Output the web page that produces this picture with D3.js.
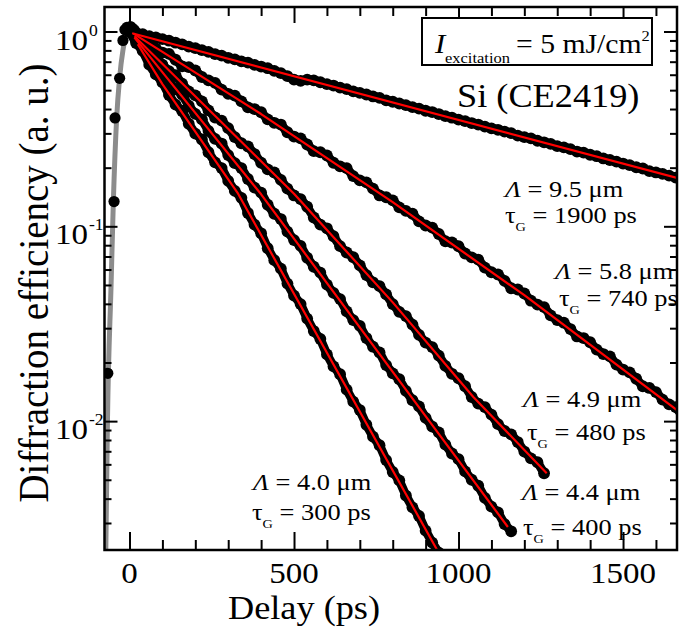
<!DOCTYPE html>
<html><head><meta charset="utf-8">
<script src="https://cdn.jsdelivr.net/npm/d3@7"></script>
<style>
body{margin:0;background:#fff}
svg{display:block;background:#fff}
text{font-family:"Liberation Serif","Times New Roman",serif;fill:#000}
</style>
</head><body>
<svg id="c" width="683" height="629"></svg>
<script>
// ---------------- data ----------------
const delayPs = [0,20,40,60,80,100,120,140,160,180,200,220,240,260,280,300,320,340,360,380,
 400,420,440,460,480,500,520,540,560,580,600,620,640,660,680,700,720,740,760,780,
 800,820,840,860,880,900,920,940,960,980,1000,1020,1040,1060,1080,1100,1120,1140,1160,1180,
 1200,1220,1240,1260,1280,1300,1320,1340,1360,1380,1400,1420,1440,1460,1480,1500,1520,1540,1560,1580,
 1600,1620,1640,1660,1680];

const gratingPeriods = ["9.5","5.8","4.9","4.4","4.0"];   // Λ (µm)
const gratingTaus    = ["1900","740","480","400","300"];   // τG (ps)

const eff95 = [1.01,0.985,0.968,0.946,0.932,0.914,0.897,0.876,0.859,0.836,
 0.822,0.803,0.786,0.766,0.752,0.733,0.720,0.703,0.692,0.674,
 0.661,0.648,0.628,0.612,0.590,0.566,0.558,0.566,0.561,0.549,
 0.537,0.528,0.515,0.506,0.493,0.484,0.475,0.464,0.456,0.443,
 0.436,0.427,0.419,0.409,0.402,0.392,0.386,0.377,0.368,0.361,
 0.353,0.347,0.339,0.333,0.325,0.318,0.313,0.306,0.301,0.292,
 0.287,0.283,0.275,0.270,0.265,0.258,0.254,0.249,0.242,0.239,
 0.233,0.229,0.223,0.219,0.215,0.210,0.206,0.201,0.198,0.192,
 0.189,0.186,0.182,0.178,0.175];
const eff58 = [1.01,0.936,0.910,0.892,0.818,0.780,0.767,0.716,0.663,0.657,
 0.631,0.584,0.561,0.545,0.503,0.479,0.469,0.438,0.408,0.400,
 0.385,0.354,0.340,0.333,0.304,0.289,0.283,0.263,0.243,0.240,
 0.231,0.212,0.203,0.199,0.181,0.172,0.168,0.156,0.144,0.141,
 0.136,0.125,0.120,0.116,0.106,0.101,0.0984,0.0913,0.0838,0.0826,
 0.0790,0.0725,0.0693,0.0675,0.0614,0.0581,0.0566,0.0525,0.0481,0.0474,
 0.0452,0.0415,0.0396,0.0385,0.0349,0.0330,0.0320,0.0297,0.0272,0.0267,
 0.0254,0.0233,0.0221,0.0215,0.0195,0.0184,0.0178,0.0165,0.0151,0.0148,
 0.0141,0.0129,0.0122,0.0118,0.0107];
const eff49 = [1.00,0.935,0.850,0.795,0.752,0.675,0.625,0.597,0.540,0.492,
 0.470,0.438,0.394,0.362,0.349,0.319,0.287,0.267,0.257,0.235,
 0.212,0.196,0.189,0.173,0.156,0.144,0.138,0.126,0.111,0.102,
 0.0977,0.0889,0.0791,0.0734,0.0694,0.0630,0.0562,0.0516,0.0493,0.0447,
 0.0399,0.0364,0.0346,0.0313,0.0277,0.0253,0.0240,0.0217,0.0192,0.0175,
 0.0166,0.0151,0.0133,0.0123,0.0118,0.0108,0.00965,0.00890,0.00855,0.00781,
 0.00698,0.00644,0.00615,0.0054];
const eff44 = [1.00,0.898,0.838,0.742,0.669,0.630,0.552,0.505,0.475,0.416,
 0.378,0.354,0.309,0.281,0.266,0.232,0.211,0.199,0.175,0.158,
 0.149,0.129,0.116,0.109,0.0940,0.0850,0.0793,0.0690,0.0620,0.0578,
 0.0502,0.0455,0.0423,0.0366,0.0330,0.0308,0.0267,0.0241,0.0225,0.0194,
 0.0176,0.0164,0.0143,0.0128,0.0119,0.0104,0.00938,0.00875,0.00758,0.00682,
 0.00638,0.00552,0.00500,0.00466,0.00404,0.00364,0.00340,0.00296,0.00272];
const eff40 = [1.00,0.872,0.795,0.676,0.602,0.549,0.472,0.421,0.391,0.336,
 0.299,0.279,0.240,0.213,0.199,0.171,0.152,0.140,0.117,0.102,
 0.0921,0.0772,0.0670,0.0606,0.0508,0.0441,0.0399,0.0336,0.0290,0.0264,
 0.0220,0.0191,0.0174,0.0145,0.0126,0.0114,0.00958,0.00832,0.00752,0.00631,
 0.00548,0.00496,0.00415,0.00361,0.00326,0.00274,0.00238,0.00211];

// rising edge (common to all gratings)
const riseDelay = [-66,-47,-44,-30,-20,-14,-8,-3,3,8,14];
const riseEff   = [0.0176,0.134,0.36,0.575,0.90,1.02,1.05,1.03,1.06,1.04,1.02];
const riseFitDelay = [-72,-67,-56,-49,-39,-30,-20,-10,-3];
const riseFitEff   = [0.00218,0.01,0.05,0.136,0.36,0.58,0.80,0.95,1.0];

// exponential fits (red), knots
const fit95Delay = [8,1664],               fit95Eff = [0.98,0.177];
const fit58Delay = [12,400,800,1200,1664], fit58Eff = [0.975,0.377,0.133,0.0443,0.0114];
const fit49Delay = [15,500,800,1045,1268], fit49Eff = [0.945,0.147,0.0407,0.0133,0.0054];
const fit44Delay = [15,400,800,1150],      fit44Eff = [0.93,0.146,0.0179,0.00286];
const fit40Delay = [25,100,330,935],       fit40Eff = [0.86,0.537,0.147,0.00218];

const xMajorTicks = [0,500,1000,1500];
const xMinorTicks = [100,200,300,400,600,700,800,900,1100,1200,1300,1400,1600];
const yMajorTicks = [1,0.1,0.01];
const yMajorExp   = ["0","-1","-2"];
const yMinorTicks = [0.9,0.8,0.7,0.6,0.5,0.4,0.3,0.2,
 0.09,0.08,0.07,0.06,0.05,0.04,0.03,0.02,
 0.009,0.008,0.007,0.006,0.005,0.004,0.003];

// ---------------- drawing ----------------
const svg = d3.select("#c");
const P = {l:104.5, r:677, t:7, b:550};
const x = d3.scaleLinear().domain([-76,1664]).range([P.l,P.r]);
const y = d3.scaleLog().domain([0.00218,1.336]).range([P.b,P.t]);

svg.append("rect").attr("width",683).attr("height",629).attr("fill","#fff");
svg.append("defs").append("clipPath").attr("id","clip")
  .append("rect").attr("x",P.l).attr("y",P.t).attr("width",P.r-P.l).attr("height",P.b-P.t);

const plot = svg.append("g").attr("clip-path","url(#clip)");

const lin = d3.line().x(d=>x(d[0])).y(d=>y(d[1]));
const smooth = d3.line().x(d=>x(d[0])).y(d=>y(d[1])).curve(d3.curveMonotoneX);

// gray rise fit
plot.append("path").datum(riseFitDelay.map((t,i)=>[t,riseFitEff[i]]))
  .attr("d",smooth).attr("fill","none").attr("stroke","#8c8c8c").attr("stroke-width",5);

const series = [
  {eff:eff95, fd:fit95Delay, fe:fit95Eff},
  {eff:eff58, fd:fit58Delay, fe:fit58Eff},
  {eff:eff49, fd:fit49Delay, fe:fit49Eff},
  {eff:eff44, fd:fit44Delay, fe:fit44Eff},
  {eff:eff40, fd:fit40Delay, fe:fit40Eff}
];

series.forEach(s=>{
  const pts = s.eff.map((v,i)=>[delayPs[i],v]);
  plot.append("path").datum(pts).attr("d",lin).attr("fill","none")
    .attr("stroke","#000").attr("stroke-width",9)
    .attr("stroke-linecap","round").attr("stroke-linejoin","round");
  plot.append("g").selectAll("circle").data(pts).join("circle")
    .attr("cx",d=>x(d[0])).attr("cy",d=>y(d[1])).attr("r",5.9).attr("fill","#000");
});

plot.append("g").selectAll("circle").data(riseDelay.map((t,i)=>[t,riseEff[i]])).join("circle")
  .attr("cx",d=>x(d[0])).attr("cy",d=>y(d[1])).attr("r",5.6).attr("fill","#000");

series.forEach(s=>{
  plot.append("path").datum(s.fd.map((t,i)=>[t,s.fe[i]]))
    .attr("d",lin).attr("fill","none").attr("stroke","#ff0000").attr("stroke-width",2.2)
    .attr("stroke-linejoin","round");
});

// frame
svg.append("rect").attr("x",P.l).attr("y",P.t).attr("width",P.r-P.l).attr("height",P.b-P.t)
  .attr("fill","none").attr("stroke","#000").attr("stroke-width",2.5);

// ticks via d3 axes
function tickAxis(axis, tr){
  const g = svg.append("g").attr("transform",tr).call(axis);
  g.select(".domain").remove();
  g.selectAll("line").attr("stroke","#000").attr("stroke-width",2);
  g.selectAll("text").remove();
}
tickAxis(d3.axisBottom(x).tickValues(xMajorTicks).tickSize(-18).tickFormat(""),`translate(0,${P.b})`);
tickAxis(d3.axisBottom(x).tickValues(xMinorTicks).tickSize(-10).tickFormat(""),`translate(0,${P.b})`);
tickAxis(d3.axisTop(x).tickValues(xMajorTicks).tickSize(-16).tickFormat(""),`translate(0,${P.t})`);
tickAxis(d3.axisTop(x).tickValues(xMinorTicks).tickSize(-9).tickFormat(""),`translate(0,${P.t})`);
tickAxis(d3.axisLeft(y).tickValues(yMajorTicks).tickSize(-13).tickFormat(""),`translate(${P.l},0)`);
tickAxis(d3.axisLeft(y).tickValues(yMinorTicks).tickSize(-7).tickFormat(""),`translate(${P.l},0)`);
tickAxis(d3.axisRight(y).tickValues(yMajorTicks).tickSize(-13).tickFormat(""),`translate(${P.r},0)`);
tickAxis(d3.axisRight(y).tickValues(yMinorTicks).tickSize(-7).tickFormat(""),`translate(${P.r},0)`);

// text helper (the original is slightly stretched horizontally)
function stext(xp, yp, size, anchor){
  return svg.append("text").attr("transform",`translate(${xp},${yp}) scale(1.1,1)`)
    .attr("font-size",size).attr("text-anchor",anchor||"start");
}

xMajorTicks.forEach(v=> stext(x(v),583,30,"middle").text(v));
yMajorTicks.forEach((v,i)=>{
  stext(88, y(v)+18, 30, "end").text("10");
  stext(89, y(v)+4, 16, "start").text(yMajorExp[i]);
});

stext(304,619,33,"middle").text("Delay (ps)");
svg.append("text").attr("transform","translate(48,283) scale(1.1,1) rotate(-90)")
  .attr("font-size",39).attr("text-anchor","middle").text("Diffraction efficiency (a. u.)");

// excitation box
svg.append("rect").attr("x",422).attr("y",18).attr("width",230).attr("height",47)
  .attr("fill","#fff").attr("stroke","#000").attr("stroke-width",2);
stext(435,53,28).attr("font-style","italic").text("I");
stext(445,63,15).text("excitation");
const exc = stext(516,53,27);
exc.append("tspan").text("= 5 mJ/cm");
exc.append("tspan").attr("font-size",15).attr("dy",-12).text("2");
stext(457,107,33).text("Si (CE2419)");

// curve annotations
const annPos = [[505,197,505,223],[555,279,559,306],[523,407,527,440],[522,500,523,535],[253,490,252,520]];
gratingPeriods.forEach((p,i)=>{
  const a = annPos[i];
  const t1 = stext(a[0],a[1],24);
  t1.append("tspan").attr("font-style","italic").text("Λ");
  t1.append("tspan").text(" = " + p + " μm");
  const t2 = stext(a[2],a[3],24);
  t2.append("tspan").text("τ");
  t2.append("tspan").attr("font-size",13).attr("dy",8).text("G");
  t2.append("tspan").attr("dy",-8).text(" = " + gratingTaus[i] + " ps");
});
</script>
</body></html>
